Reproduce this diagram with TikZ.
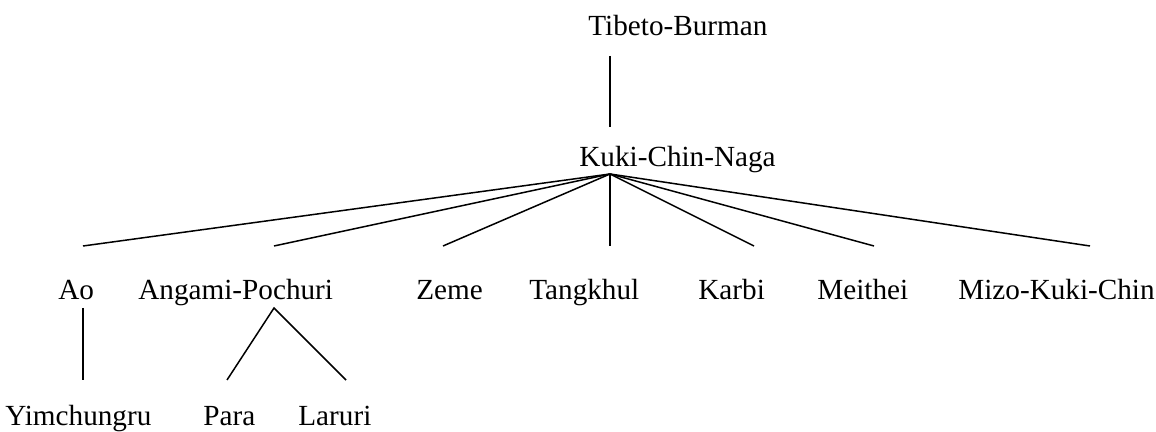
\documentclass[tikz,border=0pt]{standalone}
\usepackage{fontspec}
\setmainfont{Liberation Serif}
\begin{document}
\begin{tikzpicture}[x=0.5pt,y=-0.5pt,
  lbl/.style={anchor=base west,inner sep=0pt,font=\fontsize{14.6}{17}\selectfont},
  edge/.style={line width=0.75pt,line cap=butt}]
\useasboundingbox (0,0) rectangle (1156,432);
% labels
\node[lbl] (tb) at (588,36) {Tibeto-Burman};
\node[lbl] (kcn) at (579,167) {Kuki-Chin-Naga};
\node[lbl] (ao) at (58,300) {Ao};
\node[lbl] (ap) at (138,300) {Angami-Pochuri};
\node[lbl] (ze) at (416,300) {Zeme};
\node[lbl] (ta) at (529,300) {Tangkhul};
\node[lbl] (ka) at (698,300) {Karbi};
\node[lbl] (me) at (817,300) {Meithei};
\node[lbl] (mk) at (958,300) {Mizo-Kuki-Chin};
\node[lbl] (yi) at (5,426) {Yimchungru};
\node[lbl] (pa) at (203,426) {Para};
\node[lbl] (la) at (298,426) {Laruri};
% connector end points
\coordinate (tbB) at (610,56);
\coordinate (kcnT) at (610,127);
\coordinate (kcnB) at (610,174);
\coordinate (aoT) at (83,246);
\coordinate (apT) at (274,246);
\coordinate (zeT) at (443,246);
\coordinate (taT) at (610,246);
\coordinate (kaT) at (754,246);
\coordinate (meT) at (874,246);
\coordinate (mkT) at (1090,246);
\coordinate (aoB) at (83,308);
\coordinate (yiT) at (83,380);
\coordinate (apB) at (274,308);
\coordinate (paT) at (227,380);
\coordinate (laT) at (346,380);
% connectors
\draw[edge] (tbB) -- (kcnT);
\foreach \c in {aoT,apT,zeT,taT,kaT,meT,mkT}
  \draw[edge] (kcnB) -- (\c);
\draw[edge] (aoB) -- (yiT);
\draw[edge] (paT) -- (apB) -- (laT);
\end{tikzpicture}
\end{document}
